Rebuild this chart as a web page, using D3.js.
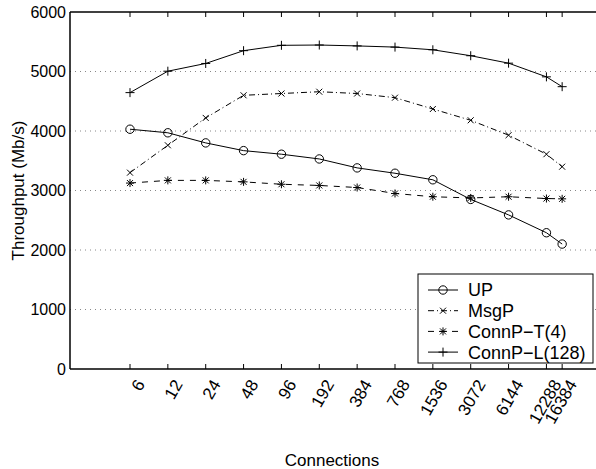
<!DOCTYPE html>
<html>
<head>
<meta charset="utf-8">
<script src="https://cdn.jsdelivr.net/npm/d3@7"></script>
<style>
  body { margin: 0; background: #fff; }
  text { font-family: "Liberation Sans", Arial, Helvetica, sans-serif; fill: #000; }
</style>
</head>
<body>
<svg id="chart" width="596" height="469"></svg>
<script>
// Data
const connections = [6, 12, 24, 48, 96, 192, 384, 768, 1536, 3072, 6144, 12288, 16384];
const upVals     = [4030, 3970, 3800, 3670, 3610, 3530, 3380, 3290, 3180, 2850, 2590, 2290, 2100];
const msgpVals   = [3300, 3760, 4220, 4600, 4630, 4660, 4630, 4560, 4370, 4180, 3930, 3610, 3400];
const connTVals  = [3125, 3170, 3170, 3145, 3105, 3085, 3050, 2950, 2895, 2875, 2895, 2865, 2860];
const connLVals  = [4645, 5005, 5135, 5350, 5440, 5445, 5430, 5410, 5365, 5265, 5140, 4910, 4745];
const seriesNames = ["UP", "MsgP", "ConnP\u2212T(4)", "ConnP\u2212L(128)"];
const yTicks = [0, 1000, 2000, 3000, 4000, 5000, 6000];

const margin = { top: 12, right: -4, bottom: 100, left: 70 };
const width = 596 - margin.left - margin.right;
const height = 469 - margin.top - margin.bottom;

const svg = d3.select("#chart")
  .append("g")
    .attr("transform", "translate(" + margin.left + "," + margin.top + ")");

const x = d3.scaleLog().base(2)
    .domain([2, 32768])
    .range([0, width]);

const y = d3.scaleLinear()
    .domain([0, 6000])
    .range([height, 0]);

// dotted grid
svg.selectAll(".grid")
  .data(yTicks.filter(d => d > 0 && d < 6000))
  .enter().append("line")
    .attr("x1", 0).attr("x2", width)
    .attr("y1", d => y(d)).attr("y2", d => y(d))
    .attr("stroke", "#888")
    .attr("stroke-width", 1)
    .attr("stroke-dasharray", "1,4");

// inward ticks on bottom and top
connections.forEach(c => {
  svg.append("line").attr("x1", x(c)).attr("x2", x(c))
    .attr("y1", height).attr("y2", height - 5).attr("stroke", "#000");
  svg.append("line").attr("x1", x(c)).attr("x2", x(c))
    .attr("y1", 0).attr("y2", 5).attr("stroke", "#000");
});

// series
const series = [
  { name: seriesNames[0], values: upVals, dash: null, marker: "circle" },
  { name: seriesNames[1], values: msgpVals, dash: "6,3,1,3", marker: "x" },
  { name: seriesNames[2], values: connTVals, dash: "6,6", marker: "star" },
  { name: seriesNames[3], values: connLVals, dash: null, marker: "plus" }
];

function drawMarker(g, type, cx, cy) {
  if (type === "circle") {
    g.append("circle").attr("cx", cx).attr("cy", cy).attr("r", 4.2)
      .attr("fill", "none").attr("stroke", "#000").attr("stroke-width", 1);
  } else if (type === "x") {
    const s = 3;
    g.append("path")
      .attr("d", `M${cx - s},${cy - s}L${cx + s},${cy + s}M${cx - s},${cy + s}L${cx + s},${cy - s}`)
      .attr("stroke", "#000").attr("stroke-width", 1);
  } else if (type === "plus") {
    const s = 4.5;
    g.append("path")
      .attr("d", `M${cx - s},${cy}L${cx + s},${cy}M${cx},${cy - s}L${cx},${cy + s}`)
      .attr("stroke", "#000").attr("stroke-width", 1);
  } else if (type === "star") {
    const s = 4, d = 3;
    g.append("path")
      .attr("d", `M${cx - s},${cy}L${cx + s},${cy}M${cx},${cy - s}L${cx},${cy + s}` +
                 `M${cx - d},${cy - d}L${cx + d},${cy + d}M${cx - d},${cy + d}L${cx + d},${cy - d}`)
      .attr("stroke", "#000").attr("stroke-width", 1);
  }
}

const line = d3.line()
    .x((d, i) => x(connections[i]))
    .y(d => y(d));

series.forEach(s => {
  svg.append("path")
    .datum(s.values)
    .attr("d", line)
    .attr("fill", "none")
    .attr("stroke", "#000")
    .attr("stroke-width", 1)
    .attr("stroke-dasharray", s.dash);
  const g = svg.append("g");
  s.values.forEach((v, i) => drawMarker(g, s.marker, x(connections[i]), y(v)));
});

// axes frame
svg.append("line").attr("x1", 0).attr("x2", width).attr("y1", 0).attr("y2", 0)
  .attr("stroke", "#000").attr("stroke-width", 1.5);
svg.append("line").attr("x1", 0).attr("x2", width).attr("y1", height).attr("y2", height)
  .attr("stroke", "#000").attr("stroke-width", 1.5);
svg.append("line").attr("x1", 0).attr("x2", 0).attr("y1", 0).attr("y2", height)
  .attr("stroke", "#000").attr("stroke-width", 1.5);

// y tick labels
svg.selectAll(".ylab")
  .data(yTicks)
  .enter().append("text")
    .attr("x", -4)
    .attr("y", d => y(d))
    .attr("dy", "0.36em")
    .attr("text-anchor", "end")
    .style("font-size", "16px")
    .text(d => d);

// x tick labels (rotated)
svg.selectAll(".xlab")
  .data(connections)
  .enter().append("text")
    .attr("transform", d => `translate(${x(d) + 5},${height + 9}) rotate(-60)`)
    .attr("text-anchor", "end")
    .attr("dy", "0.71em")
    .style("font-size", "17px")
    .text(d => d);

// axis titles
svg.append("text")
  .attr("x", 262)
  .attr("y", 454)
  .attr("text-anchor", "middle")
  .style("font-size", "17px")
  .text("Connections");

svg.append("text")
  .attr("transform", `translate(-46,${height / 2}) rotate(-90)`)
  .attr("text-anchor", "middle")
  .style("font-size", "17px")
  .text("Throughput (Mb/s)");

// legend
const legend = svg.append("g").attr("transform", "translate(348,262)");
legend.append("rect")
  .attr("width", 175).attr("height", 89)
  .attr("fill", "#fff").attr("stroke", "#000").attr("stroke-width", 1);
series.forEach((s, i) => {
  const ly = 16 + i * 20.7;
  legend.append("line")
    .attr("x1", 10).attr("x2", 40).attr("y1", ly).attr("y2", ly)
    .attr("stroke", "#000").attr("stroke-width", 1)
    .attr("stroke-dasharray", s.dash);
  drawMarker(legend, s.marker, 25, ly);
  legend.append("text")
    .attr("x", 50).attr("y", ly).attr("dy", "0.36em")
    .style("font-size", "18px")
    .text(s.name);
});
</script>
</body>
</html>
